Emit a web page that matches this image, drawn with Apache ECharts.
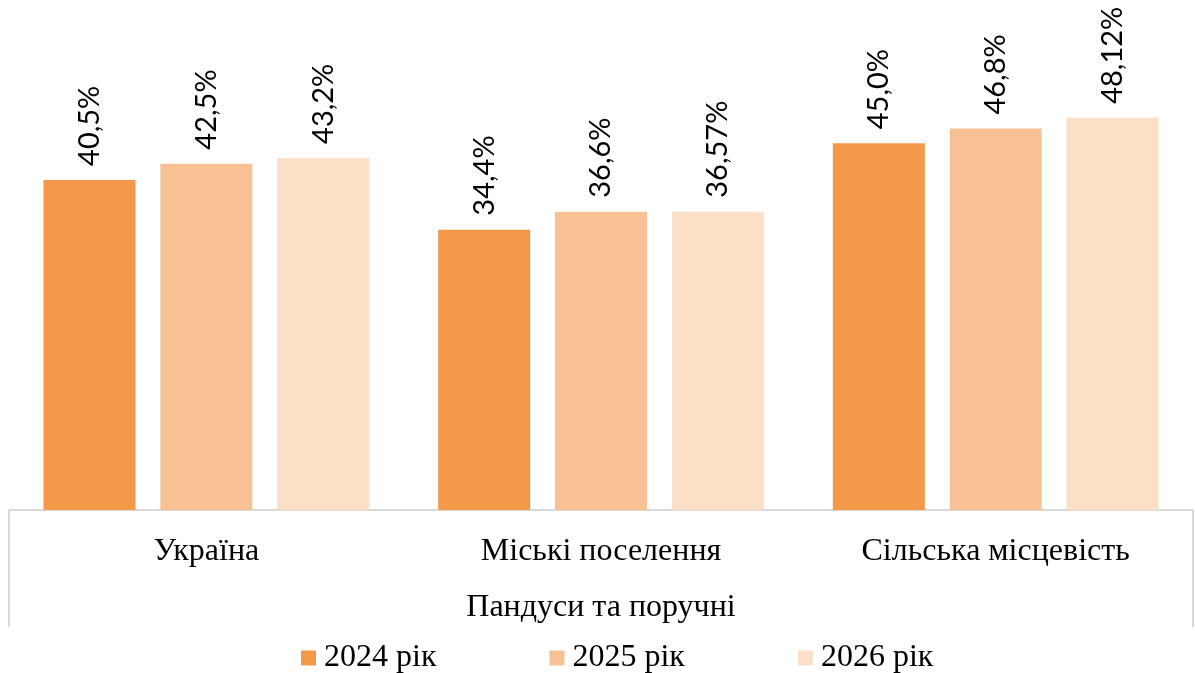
<!DOCTYPE html>
<html>
<head>
<meta charset="utf-8">
<script src="https://cdn.jsdelivr.net/npm/echarts@6/dist/echarts.min.js"></script>
<style>
  html, body { margin: 0; padding: 0; background: #fff; }
  #chart { width: 1195px; height: 673px; }
</style>
</head>
<body>
<div id="chart"></div>
<script>
// categories and values
var categories = ['Україна', 'Міські поселення', 'Сільська місцевість']
var groupLabel = ['Пандуси та поручні']
var seriesNames = ['2024 рік', '2025 рік', '2026 рік']
var values2024 = [40.5, 34.4, 45.0]
var values2025 = [42.5, 36.6, 46.8]
var values2026 = [43.2, 36.6, 48.12]
// label text as printed on the chart
var labels2024 = ['40,5%', '34,4%', '45,0%']
var labels2025 = ['42,5%', '36,6%', '46,8%']
var labels2026 = ['43,2%', '36,57%', '48,12%']
var colors = ['#f4994a', '#f8c193', '#fbdfc6']

var serif = '"Liberation Serif", "Times New Roman", serif'

function makeSeries (name, values, labels, color) {
  return {
    name: name,
    type: 'bar',
    xAxisIndex: 0,
    barWidth: 92,
    barGap: '27%',
    itemStyle: { color: color },
    label: {
      show: true,
      position: 'top',
      rotate: 90,
      align: 'left',
      verticalAlign: 'middle',
      distance: 14,
      color: '#000',
      fontFamily: 'Lato',
      fontSize: 29,
      formatter: function (p) { return labels[p.dataIndex] }
    },
    data: values
  }
}

var myChart = echarts.init(document.getElementById('chart'))
var option = {
  backgroundColor: '#fff',
  animation: false,
  grid: { left: 9, right: 2, top: 21, bottom: 163 },
  legend: {
    top: 637,
    left: 296,
    icon: 'rect',
    itemWidth: 15,
    itemHeight: 15,
    itemGap: 113,
    textStyle: { fontFamily: serif, fontSize: 32, color: '#000', padding: [0, 0, 0, 3] },
    data: seriesNames
  },
  xAxis: [
    {
      type: 'category',
      data: categories,
      axisLine: { lineStyle: { color: '#d9d9d9', width: 2 } },
      axisTick: { show: false },
      axisLabel: { margin: 26, fontFamily: serif, fontSize: 32, color: '#000' }
    },
    {
      type: 'category',
      position: 'bottom',
      data: groupLabel,
      axisLine: { show: false },
      axisTick: { show: true, length: 117, lineStyle: { color: '#d9d9d9', width: 2 } },
      axisLabel: { margin: 82, fontFamily: serif, fontSize: 32, color: '#000' }
    }
  ],
  yAxis: {
    type: 'value',
    min: 0,
    max: 60,
    show: false,
    splitLine: { show: false }
  },
  series: [
    makeSeries(seriesNames[0], values2024, labels2024, colors[0]),
    makeSeries(seriesNames[1], values2025, labels2025, colors[1]),
    makeSeries(seriesNames[2], values2026, labels2026, colors[2])
  ]
}
myChart.setOption(option)
</script>
</body>
</html>
